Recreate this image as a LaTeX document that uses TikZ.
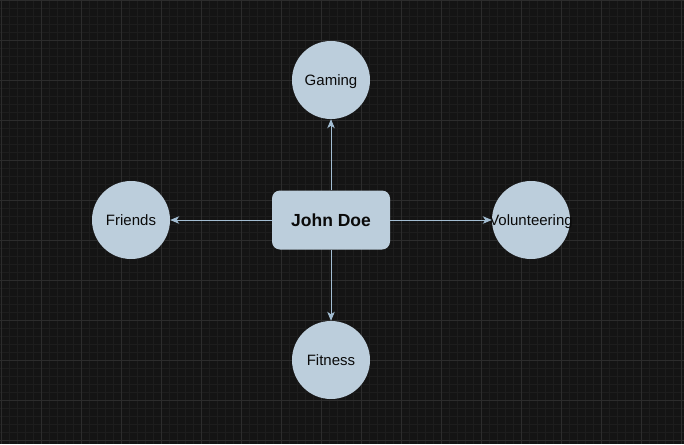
\documentclass[tikz,border=0pt]{standalone}
\usepackage{fontspec}
\setmainfont{Liberation Sans}
\usetikzlibrary{arrows.meta}

\definecolor{bgcol}{RGB}{20,20,20}
\definecolor{majorcol}{RGB}{44,44,44}
\definecolor{minorcol}{RGB}{29,29,29}
\definecolor{nodecol}{RGB}{188,206,220}
\definecolor{linkcol}{RGB}{163,189,210}
\definecolor{textcol}{RGB}{10,10,10}

\tikzset{
    person/.style={draw=none, fill=nodecol, rounded corners=8pt, minimum width=118pt,
        minimum height=59pt, inner sep=0pt, text=textcol, font=\fontsize{17.5}{19}\selectfont\bfseries},
    hobby/.style={circle, draw=none, fill=nodecol, minimum size=78pt, inner sep=0pt,
        text=textcol, text height=13.5pt, text depth=3pt, font=\fontsize{15}{17}\selectfont,
        execute at begin node={\hbox to 0pt\bgroup\hss}, execute at end node={\hss\egroup}},
    link/.style={draw=linkcol, line width=0.8pt, -{Stealth[length=9pt, width=7.5pt, inset=2.5pt]}}
}

\begin{document}
\begin{tikzpicture}[x=1pt, y=-1pt]
    \useasboundingbox (0,0) rectangle (684,444);
    \fill[bgcol] (0,0) rectangle (684,444);

    % grid
    \foreach \gx in {1,9,...,684} \draw[minorcol, line width=0.6pt] (\gx,0) -- (\gx,444);
    \foreach \gy in {0,8,...,444} \draw[minorcol, line width=0.6pt] (0,\gy) -- (684,\gy);
    \foreach \gx in {1,41,...,684} \draw[majorcol, line width=0.8pt] (\gx,0) -- (\gx,444);
    \foreach \gy in {0,40,...,444} \draw[majorcol, line width=0.8pt] (0,\gy) -- (684,\gy);

    \node[person] (john) at (331, 220) {John Doe};

    \node[hobby] (gaming) at (331, 80) {Gaming};
    \node[hobby] (friends) at (131, 220) {Friends};
    \node[hobby] (volunteering) at (531, 220) {Volunteering};
    \node[hobby] (fitness) at (331, 360) {Fitness};

    \begin{scope}[every path/.style={link}]
       \draw (john) -- (gaming);
       \draw (john) -- (friends);
       \draw (john) -- (volunteering);
       \draw (john) -- (fitness);
    \end{scope}
\end{tikzpicture}
\end{document}
